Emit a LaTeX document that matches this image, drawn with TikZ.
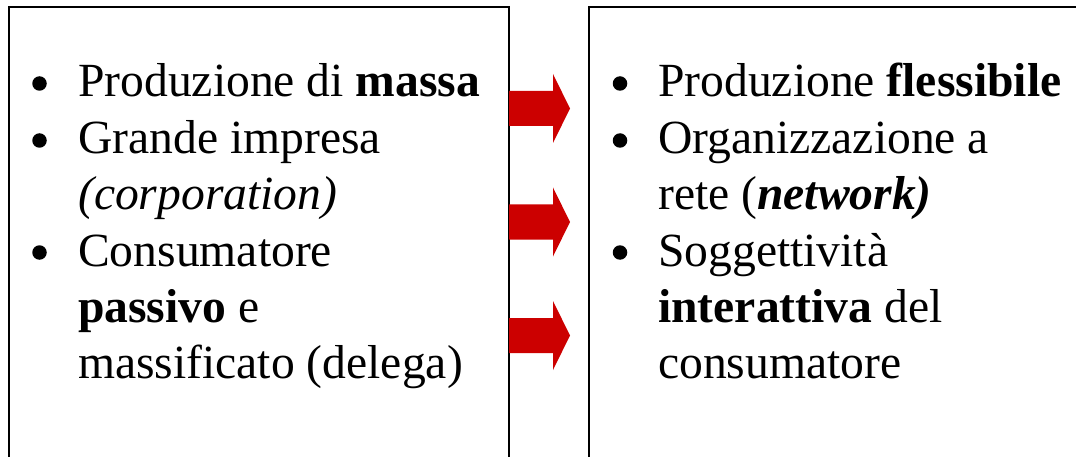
\documentclass[tikz,border=0pt]{standalone}
\usepackage{fontspec}
\setmainfont{Liberation Serif}
\definecolor{arrowred}{RGB}{204,0,0}
\begin{document}
\begin{tikzpicture}[x=1pt,y=-1pt,
  txt/.style={anchor=base west,inner sep=0pt,font=\fontsize{47.6}{57}\selectfont},
  dot/.style={circle,fill=black,draw=none,inner sep=0pt,minimum size=14.5pt},
  panel/.style={draw=black,line width=1.8pt},
  redarrow/.style={fill=arrowred,draw=none}]
\useasboundingbox (0,0) rectangle (1076,457);
\clip (0,0) rectangle (1076,457);

% the two panels (they run past the lower and right edges)
\draw[panel] (9,7) rectangle (509,490);
\draw[panel] (589,7) rectangle (1100,490);

% left panel: mass production
\node[dot] (lb1) at (39.5,83.5)  {};
\node[txt] (l1)  at (78,97)  {Produzione di \textbf{massa}};
\node[dot] (lb2) at (39.5,140.5) {};
\node[txt] (l2)  at (78,154) {Grande impresa};
\node[txt] (l3)  at (78,210) {\textit{(corporation)}};
\node[dot] (lb3) at (39.5,252.5) {};
\node[txt] (l4)  at (78,266) {Consumatore};
\node[txt] (l5)  at (78,322) {\textbf{passivo} e};
\node[txt] (l6)  at (78,378) {massificato (delega)};

% right panel: flexible production
\node[dot] (rb1) at (620,83.5)  {};
\node[txt] (r1)  at (658,97)  {Produzione \textbf{flessibile}};
\node[dot] (rb2) at (620,140.5) {};
\node[txt] (r2)  at (658,154) {Organizzazione a};
\node[txt] (r3)  at (658,210) {rete (\textbf{\textit{network)}}};
\node[dot] (rb3) at (620,252.5) {};
\node[txt] (r4)  at (658,266) {Soggettività};
\node[txt] (r5)  at (658,322) {\textbf{interattiva} del};
\node[txt] (r6)  at (658,378) {consumatore};

% block arrows between the panels
\foreach \y in {108.5,222,335.5}{
  \fill[redarrow] (509,\y-17.5) -- (553,\y-17.5) -- (553,\y-34.5) -- (570,\y)
    -- (553,\y+34.5) -- (553,\y+17.5) -- (509,\y+17.5) -- cycle;
}
\end{tikzpicture}
\end{document}
